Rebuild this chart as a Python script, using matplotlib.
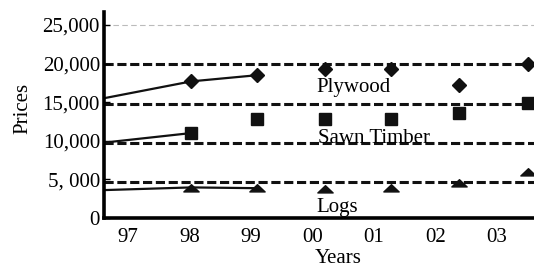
import matplotlib.pyplot as plt
from matplotlib.path import Path

# years as positions on the axis (97 = 1997, 100 = 2000 ...)
tick_years = [97, 98, 99, 100, 101, 102, 103]
tick_labels = ['97', '98', '99', '00', '01', '02', '03']

point_x = [98.03, 99.1, 100.2, 101.28, 102.38, 103.5]
plywood = [17700, 18500, 19300, 19300, 17200, 19900]
sawn_timber = [11000, 12800, 12800, 12800, 13600, 14900]
logs = [3900, 3900, 3750, 3900, 4500, 5900]

# trend lines from the left edge
line_x = [96.6, 98.03, 99.1]
plywood_line = [15500, 17700, 18500]
sawn_line = [9750, 11000]
logs_line = [3600, 3950, 3850]

y_ticks = [0, 5000, 10000, 15000, 20000, 25000]
y_labels = ['0', '5, 000', '10,000', '15,000', '20,000', '25,000']
ref_levels = [20000, 14800, 9700, 4650]

plt.rcParams['font.family'] = ['Liberation Serif', 'DejaVu Serif']

fig = plt.figure(figsize=(5.34, 2.71), dpi=100)
ax = fig.add_axes([0.195, 0.196, 0.805, 0.76])

ax.axhline(25000, color='#bbbbbb', lw=0.8, ls=(0, (5, 3)), zorder=1)
for lvl in ref_levels:
    ax.axhline(lvl, color='#111111', lw=2.2, ls=(0, (3, 1.2)), zorder=1)

ax.plot(line_x, plywood_line, color='#111111', lw=1.6, zorder=2)
ax.plot(line_x[:2], sawn_line, color='#111111', lw=1.6, zorder=2)
ax.plot(line_x, logs_line, color='#111111', lw=1.6, zorder=2)

tri = Path([(-1, -0.45), (1, -0.45), (0, 0.5), (-1, -0.45)],
           [Path.MOVETO, Path.LINETO, Path.LINETO, Path.CLOSEPOLY])

ax.plot(point_x, plywood, 'D', color='#111111', ms=7.5, ls='none', zorder=3)
ax.plot(point_x, sawn_timber, 's', color='#111111', ms=8.5, ls='none', zorder=3)
ax.plot(point_x, logs, marker=tri, color='#111111', ms=11, ls='none', zorder=3)

ax.text(100.66, 16900, 'Plywood', fontsize=15, ha='center', va='center')
ax.text(101.0, 10300, 'Sawn Timber', fontsize=15, ha='center', va='center')
ax.text(100.4, 1300, 'Logs', fontsize=15, ha='center', va='center')

ax.set_xlim(96.61, 103.6)
ax.set_ylim(0, 26700)
ax.set_xticks(tick_years, tick_labels)
ax.set_yticks(y_ticks, y_labels)
ax.tick_params(axis='x', length=0, pad=7, labelsize=15)
ax.tick_params(axis='y', direction='in', length=4, width=1, pad=3, labelsize=15)

for side in ('top', 'right'):
    ax.spines[side].set_visible(False)
ax.spines['left'].set_linewidth(2.6)
ax.spines['bottom'].set_linewidth(2.6)

fig.text(0.633, 0.045, 'Years', fontsize=15, ha='center', va='center')
fig.text(0.042, 0.60, 'Prices', fontsize=15, ha='center', va='center', rotation=90)

fig.savefig('out.png', dpi=100)
